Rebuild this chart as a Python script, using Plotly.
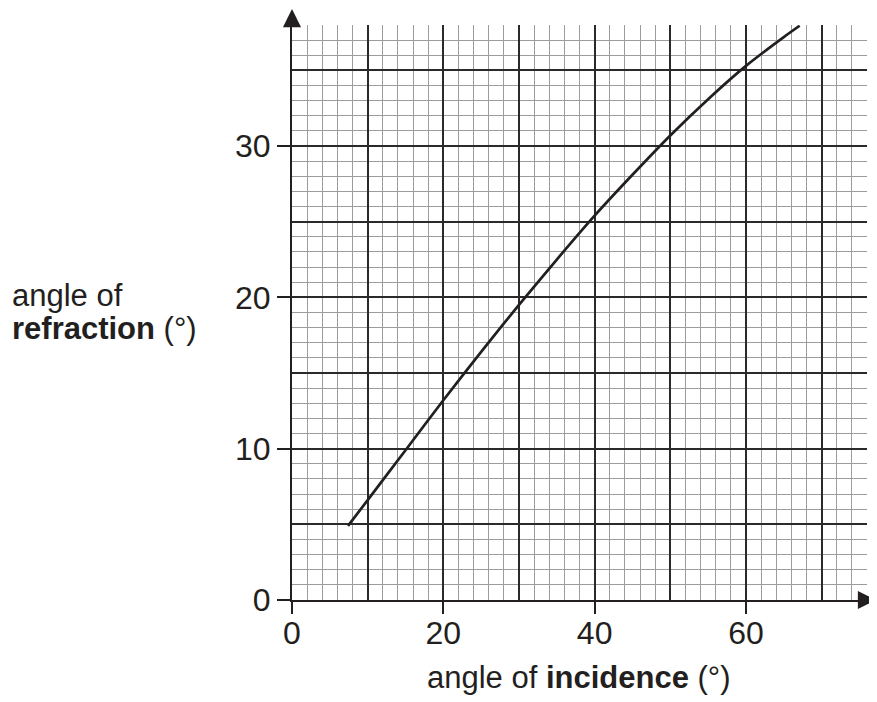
import plotly.graph_objects as go

# Data
incidence = [7.4, 10, 15, 20, 25, 30, 35, 40, 45, 50, 55, 60, 65, 67.1]
refraction = [4.9, 6.6, 9.9, 13.2, 16.4, 19.5, 22.5, 25.4, 28.1, 30.7, 33.1, 35.3, 37.2, 37.95]

x_ticks = [0, 20, 40, 60]
y_ticks = [0, 10, 20, 30]
x_range = [0, 76]
y_range = [0, 38]

# the page adds an 8px body margin, so the figure is placed with that offset
OFF = 8
W, H = 877 - OFF, 702 - OFF
ML, MT = 292 - OFF, 25 - OFF
PW, PH = 575, 575
MR = W - ML - PW
MB = H - MT - PH


def px(page_x):
    return (page_x - OFF - ML) / PW


def py(page_y):
    return (MT + PH - (page_y - OFF)) / PH


FONT = "Liberation Sans, Arial, Helvetica, sans-serif"
INK = "#231f20"
MAJOR = "#2a2a2a"
MINOR = "#9c9c9c"

fig = go.Figure()
fig.add_trace(go.Scatter(
    x=incidence, y=refraction, mode="lines",
    line=dict(color=INK, width=2.7, shape="spline", smoothing=0.8),
    hoverinfo="skip", showlegend=False,
))
# invisible trace to instantiate the overlay axes
fig.add_trace(go.Scatter(x=[x_range[0]], y=[y_range[0]], xaxis="x2", yaxis="y2",
                         mode="markers", marker=dict(opacity=0), hoverinfo="skip",
                         showlegend=False))

fig.update_layout(
    width=W, height=H,
    margin=dict(l=ML, r=MR, t=MT, b=MB, pad=0),
    paper_bgcolor="white", plot_bgcolor="white",
    font=dict(family=FONT, size=32, color=INK),
    xaxis=dict(
        range=x_range, tickmode="linear", tick0=0, dtick=10,
        showgrid=True, gridcolor=MAJOR, gridwidth=1.6,
        ticks="", showticklabels=False, zeroline=False,
        showline=True, linecolor=INK, linewidth=2.2,
        minor=dict(tickmode="linear", tick0=0, dtick=2, showgrid=True,
                   gridcolor=MINOR, gridwidth=1.3, ticks=""),
    ),
    yaxis=dict(
        range=y_range, tickmode="linear", tick0=0, dtick=5,
        showgrid=True, gridcolor=MAJOR, gridwidth=1.6,
        ticks="", showticklabels=False, zeroline=False,
        showline=True, linecolor=INK, linewidth=2.2,
        minor=dict(tickmode="linear", tick0=0, dtick=1, showgrid=True,
                   gridcolor=MINOR, gridwidth=1.3, ticks=""),
    ),
    xaxis2=dict(
        range=x_range, overlaying="x", anchor="y2", side="bottom",
        tickmode="array", tickvals=x_ticks, ticktext=[str(v) for v in x_ticks],
        ticks="outside", ticklen=13, tickwidth=1.6, tickcolor=INK,
        ticklabelstandoff=-8,
        showgrid=False, zeroline=False, showline=False,
        tickfont=dict(size=32, family=FONT, color=INK),
    ),
    yaxis2=dict(
        range=y_range, overlaying="y", anchor="x2", side="left",
        tickmode="array", tickvals=y_ticks, ticktext=[str(v) for v in y_ticks],
        ticks="outside", ticklen=14, tickwidth=1.6, tickcolor=INK,
        showgrid=False, zeroline=False, showline=False,
        tickfont=dict(size=32, family=FONT, color=INK),
    ),
)

# axis arrows
fig.add_annotation(xref="paper", yref="paper", x=0, y=py(8), ax=0, ay=18,
                   axref="pixel", ayref="pixel", text="", showarrow=True,
                   arrowhead=2, arrowsize=1.65, arrowwidth=2.2, arrowcolor=INK)
fig.add_annotation(xref="paper", yref="paper", x=px(879), y=0, ax=-13, ay=0,
                   axref="pixel", ayref="pixel", text="", showarrow=True,
                   arrowhead=2, arrowsize=1.65, arrowwidth=2.2, arrowcolor=INK)

# axis titles
fig.add_annotation(xref="paper", yref="paper", x=px(578.5), y=py(677),
                   xanchor="center", yanchor="middle", showarrow=False,
                   text="angle of <b>incidence</b> (°)", font=dict(size=31, family=FONT, color=INK))
fig.add_annotation(xref="paper", yref="paper", x=px(10), y=py(295),
                   xanchor="left", yanchor="middle", showarrow=False,
                   text="angle of", font=dict(size=31, family=FONT, color=INK))
fig.add_annotation(xref="paper", yref="paper", x=px(10), y=py(328),
                   xanchor="left", yanchor="middle", showarrow=False,
                   text="<b>refraction</b> (°)", font=dict(size=31, family=FONT, color=INK))

fig.write_html("out.html")
